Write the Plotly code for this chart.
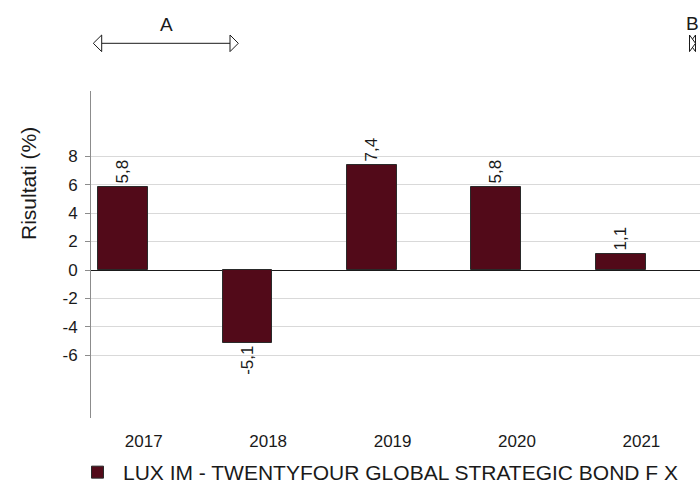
import plotly.graph_objects as go

years = ["2017", "2018", "2019", "2020", "2021"]
returns = [5.8, -5.1, 7.4, 5.8, 1.1]
y_ticks = [-6, -4, -2, 0, 2, 4, 6, 8]
series_name = "LUX IM - TWENTYFOUR GLOBAL STRATEGIC BOND F X"

W, H = 700, 483
L, R, T, B = 91, 0, 91, 65
PW, PH = W - L - R, H - T - B


def px(x):
    """window pixel x -> paper fraction"""
    return (x - L) / PW


def py(y):
    """window pixel y -> paper fraction"""
    return (H - B - y) / PH


FONT = "Arial, Liberation Sans, sans-serif"
labels = [f"{v:.1f}".replace(".", ",") for v in returns]

fig = go.Figure()
fig.add_trace(go.Bar(
    x=years, y=returns, name=series_name,
    width=0.4, offset=-0.366,
    marker=dict(color="#520a19", line=dict(color="#2a2a2a", width=1)),
    text=labels, textposition="outside", textangle=-90,
    textfont=dict(family=FONT, size=17, color="#1a1a1a"),
    constraintext="none", cliponaxis=False,
))

shapes = []
ya = 43.3
shapes.append(dict(type="line", xref="paper", yref="paper",
                   x0=px(101.7), x1=px(230), y0=py(ya), y1=py(ya),
                   line=dict(color="#1a1a1a", width=1)))
for tip, base in [(93.3, 101.7), (238.3, 230), (689.5, 695.5), (695.5, 689.5)]:
    path = (f"M {px(tip)},{py(ya)} L {px(base)},{py(ya - 8.3)} "
            f"L {px(base)},{py(ya + 8.3)} Z")
    shapes.append(dict(type="path", xref="paper", yref="paper", path=path,
                       fillcolor="white", line=dict(color="#1a1a1a", width=1)))

annotations = [
    dict(text="Risultati (%)", xref="paper", yref="paper", x=px(28), y=py(184),
         textangle=-90, showarrow=False, font=dict(family=FONT, size=21, color="#1a1a1a"),
         xanchor="center", yanchor="middle"),
    dict(text="A", xref="paper", yref="paper", x=px(166), y=py(24.5), showarrow=False,
         font=dict(family=FONT, size=19, color="#1a1a1a"), xanchor="center", yanchor="middle"),
    dict(text="B", xref="paper", yref="paper", x=px(692), y=py(23.5), showarrow=False,
         font=dict(family=FONT, size=19, color="#1a1a1a"), xanchor="center", yanchor="middle"),
]

fig.update_layout(
    width=W, height=H,
    margin=dict(l=L, r=R, t=T, b=B, pad=0, autoexpand=False),
    paper_bgcolor="white", plot_bgcolor="white",
    font=dict(family=FONT, color="#1a1a1a"),
    showlegend=True,
    legend=dict(orientation="h", x=px(72), y=py(452), xanchor="left", yanchor="top",
                itemwidth=41,
                font=dict(family=FONT, size=21, color="#1a1a1a"),
                bgcolor="rgba(0,0,0,0)", traceorder="normal"),
    shapes=shapes, annotations=annotations,
    bargap=0,
)
fig.update_xaxes(
    type="category", range=[-0.424, 4.471],
    showgrid=False, showline=False, zeroline=False,
    ticks="", ticklabelstandoff=11,
    tickfont=dict(family=FONT, size=17, color="#1a1a1a"),
)
fig.update_yaxes(
    range=[-10.39, 12.57],
    tickvals=y_ticks, ticktext=[str(v) for v in y_ticks],
    showgrid=True, gridcolor="#d9d9d9", gridwidth=1,
    zeroline=True, zerolinecolor="#1a1a1a", zerolinewidth=1,
    showline=True, linecolor="#8c8c8c", linewidth=1,
    ticks="outside", ticklen=5, tickcolor="#8c8c8c", ticklabelstandoff=4,
    tickfont=dict(family=FONT, size=17, color="#1a1a1a"),
)

page_fix = ("document.body.style.margin='0';"
            "document.documentElement.style.overflow='hidden';"
            "document.body.style.overflow='hidden';")
fig.write_html("out.html", post_script=page_fix,
               config={"displayModeBar": False})
